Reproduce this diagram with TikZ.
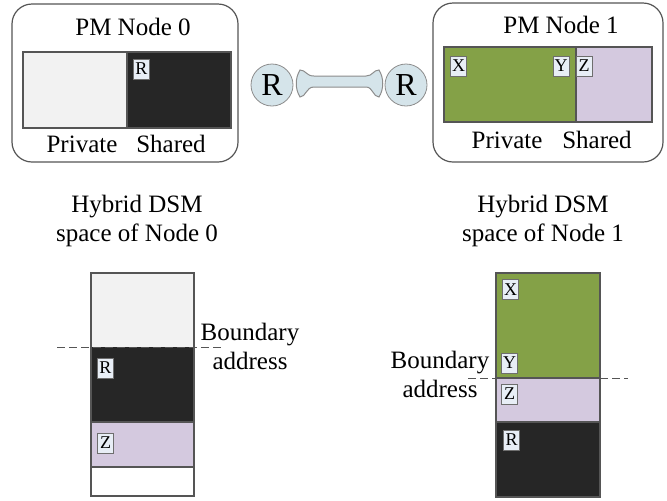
\documentclass[tikz,border=0pt]{standalone}
\usepackage{fontspec}
\setmainfont{Liberation Serif}

\definecolor{boxline}{HTML}{555555}
\definecolor{privfill}{HTML}{F2F2F2}
\definecolor{sharedfill}{HTML}{262626}
\definecolor{greenfill}{HTML}{84A147}
\definecolor{lavfill}{HTML}{D4C9DF}
\definecolor{tagfill}{HTML}{E8EEF6}
\definecolor{tagline}{HTML}{6E6E6E}
\definecolor{linkfill}{HTML}{D5E4EA}
\definecolor{linkline}{HTML}{8C8C8C}

\tikzset{
	txt/.style={font=\fontsize{12.5}{14.5}\selectfont, align=center, inner sep=0pt},
	tag/.style={draw=tagline, fill=tagfill, font=\fontsize{9}{10}\selectfont, inner sep=0pt, minimum width=8pt, minimum height=10pt},
	router/.style={circle, draw=linkline, fill=linkfill, minimum size=21pt, inner sep=0pt, font=\fontsize{16}{18}\selectfont},
	mem/.style={draw=boxline, line width=0.6pt},
	bound/.style={draw=boxline, dashed, dash pattern=on 4pt off 2pt, line width=0.5pt}
}

\begin{document}
\begin{tikzpicture}[x=0.5pt,y=-0.5pt]
		\useasboundingbox (0,0) rectangle (667,500);
		% PM node 0
		\draw[mem, rounded corners=10pt] (12,4) rectangle (238,162);
		\node[txt, anchor=base](pm0) at (133,35) {PM Node 0};
		\fill[privfill] (23,52) rectangle (127,128);
		\fill[sharedfill] (127,52) rectangle (231,128);
		\draw[mem] (23,52) rectangle (231,128) (127,52) -- (127,128);
		\node[tag](pm0r) at (141.5,69) {R};
		\node[txt, anchor=base](priv0) at (82,152) {Private};
		\node[txt, anchor=base](shar0) at (171,152) {Shared};
		% PM node 1
		\draw[mem, rounded corners=10pt] (433,3) rectangle (663,162);
		\node[txt, anchor=base](pm1) at (561,33) {PM Node 1};
		\fill[greenfill] (444,47) rectangle (576,122);
		\fill[lavfill] (576,47) rectangle (652,122);
		\draw[mem] (444,47) rectangle (652,122) (576,47) -- (576,122);
		\node[tag](pm1x) at (458.5,66) {X};
		\node[tag](pm1y) at (561,66) {Y};
		\node[tag](pm1z) at (584,66) {Z};
		\node[txt, anchor=base](priv1) at (507,148) {Private};
		\node[txt, anchor=base](shar1) at (597,148) {Shared};
		% routers and link
		\node[router](r0) at (272,85) {R};
		\node[router](r1) at (406,85) {R};
		\draw[draw=linkline, fill=linkfill, line width=0.5pt]
			(300,70) .. controls (306,70) and (306,76) .. (314,76) -- (366,76)
			.. controls (373,76) and (373,70) .. (379,70)
			.. controls (384,78) and (384,89) .. (379,97)
			.. controls (373,97) and (373,87) .. (366,87) -- (314,87)
			.. controls (306,87) and (306,97) .. (300,97)
			.. controls (295,89) and (295,78) .. (300,70) -- cycle;
		% hybrid space of node 0
		\node[txt](h0) at (137,221) {Hybrid DSM\\space of Node 0};
		\fill[privfill] (91,273) rectangle (194,347);
		\fill[sharedfill] (91,347) rectangle (194,422);
		\fill[lavfill] (91,422) rectangle (194,467);
		\fill[white] (91,467) rectangle (194,496);
		\draw[mem] (91,273) rectangle (194,496) (91,422) -- (194,422) (91,467) -- (194,467);
		\draw[bound] (57,347) -- (223,347);
		\node[tag](h0r) at (105.5,368) {R};
		\node[tag](h0z) at (105.5,443) {Z};
		\node[txt](b0) at (250,346.5) {Boundary\\address};
		% hybrid space of node 1
		\node[txt](h1) at (543,221) {Hybrid DSM\\space of Node 1};
		\fill[greenfill] (496,273) rectangle (600,378);
		\fill[lavfill] (496,378) rectangle (600,422);
		\fill[sharedfill] (496,422) rectangle (600,497);
		\draw[mem] (496,273) rectangle (600,497) (496,378) -- (600,378) (496,422) -- (600,422);
		\draw[bound] (468,378) -- (628,378);
		\node[tag](h1x) at (510.5,289.5) {X};
		\node[tag](h1y) at (509.5,363) {Y};
		\node[tag](h1z) at (509.5,394) {Z};
		\node[tag](h1r) at (511.5,440) {R};
		\node[txt](b1) at (440,374) {Boundary\\address};
	\end{tikzpicture}
\end{document}
